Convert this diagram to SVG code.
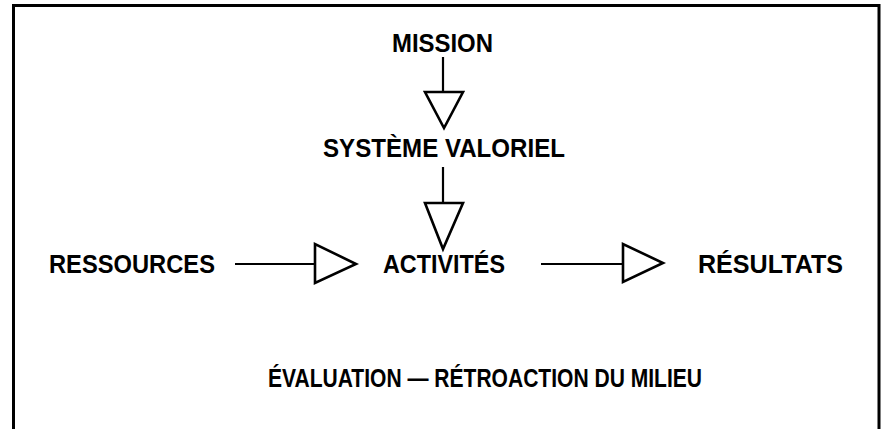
<svg xmlns="http://www.w3.org/2000/svg" width="884" height="429" viewBox="0 0 884 429">
<style>
text{font-family:"Liberation Sans",Arial,sans-serif;font-weight:bold;font-size:25px;fill:#000}
.ln{stroke:#000;stroke-width:2.2;fill:none}
.tri{stroke:#000;stroke-width:2.6;fill:#fff;stroke-linejoin:miter}
.frame{stroke:#000;stroke-width:3;fill:none}
</style>
<rect width="884" height="429" fill="#fff"/>
<path class="frame" d="M13.5,429 V5.5 H879 V429"/>
<g id="connectors">
<line class="ln" x1="443" y1="57" x2="443" y2="92"/>
<polygon class="tri" points="425,92 463,92 444,128"/>
<line class="ln" x1="443" y1="167" x2="443" y2="203"/>
<polygon class="tri" points="425,203 463,203 443,249"/>
<line class="ln" x1="235" y1="264" x2="315" y2="264"/>
<polygon class="tri" points="315,244 315,283 356,264"/>
<line class="ln" x1="541" y1="264" x2="623" y2="264"/>
<polygon class="tri" points="623,244 623,282 663,263"/>
</g>
<g id="mission"><text x="392" y="52" textLength="101" lengthAdjust="spacingAndGlyphs">MISSION</text></g>
<g id="systeme"><text x="323" y="157" textLength="242" lengthAdjust="spacingAndGlyphs">SYSTÈME VALORIEL</text></g>
<g id="ressources"><text x="49" y="273" textLength="166" lengthAdjust="spacingAndGlyphs">RESSOURCES</text></g>
<g id="activites"><text x="383" y="273" textLength="122" lengthAdjust="spacingAndGlyphs">ACTIVITÉS</text></g>
<g id="resultats"><text x="698" y="273" textLength="145" lengthAdjust="spacingAndGlyphs">RÉSULTATS</text></g>
<g id="evaluation"><text x="268" y="387" textLength="434" lengthAdjust="spacingAndGlyphs">ÉVALUATION — RÉTROACTION DU MILIEU</text></g>
</svg>
